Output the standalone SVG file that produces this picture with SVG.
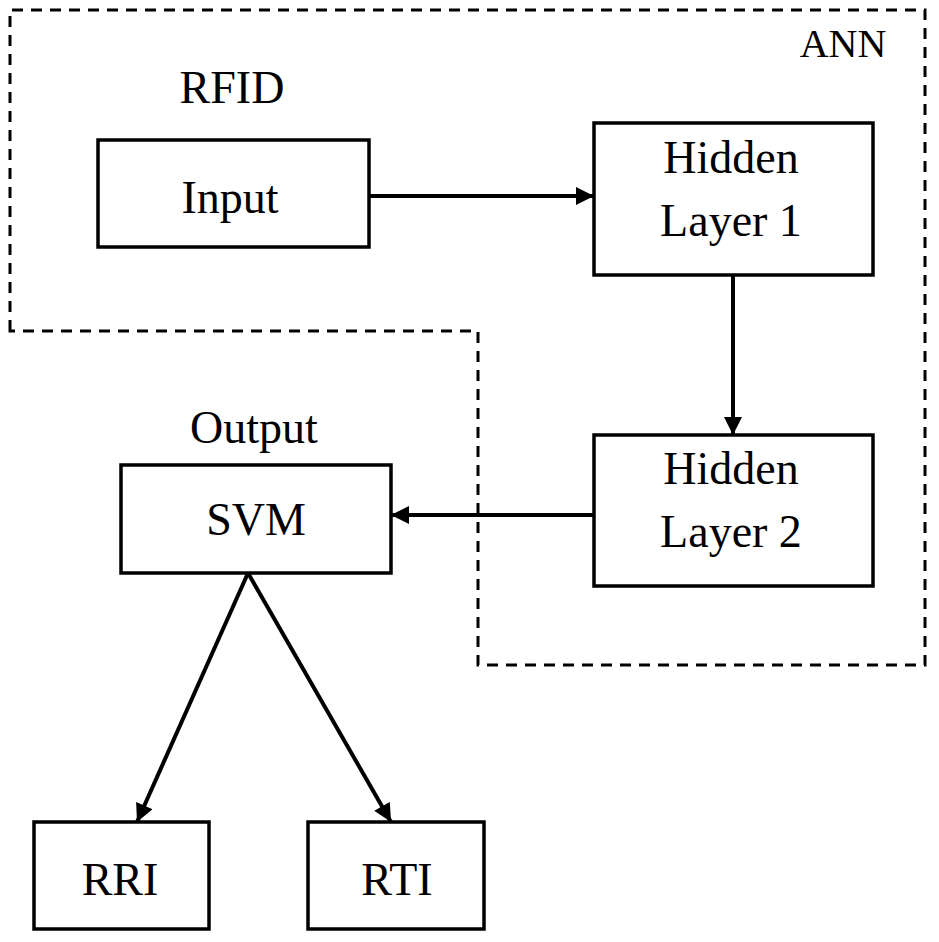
<svg xmlns="http://www.w3.org/2000/svg" width="939" height="942" viewBox="0 0 939 942">
<style>
.box{fill:#fff;stroke:#000;stroke-width:3.5}
.t{font-family:"Liberation Serif","Times New Roman",serif;font-size:46px;fill:#000;text-anchor:middle}
.conn{stroke:#000;stroke-width:4;fill:none}
.dash{stroke:#000;stroke-width:3;fill:none;stroke-dasharray:11 8}
</style>
<defs>
<marker id="ah" viewBox="0 0 10 10" refX="10" refY="5" markerWidth="5" markerHeight="4.5" markerUnits="strokeWidth" orient="auto">
<path d="M0,0 L10,5 L0,10 z" fill="#000"/>
</marker>
</defs>
<g id="ann-boundary">
<path class="dash" d="M10,331 L10,10 L925,10 L925,665 L478,665 L478,331 Z"/>
<text class="t" x="843" y="57" style="font-size:40px">ANN</text>
<text class="t" x="232" y="103">RFID</text>
<text class="t" x="254" y="443">Output</text>
</g>
<g id="connectors">
<line class="conn" x1="369" y1="196" x2="594" y2="196" marker-end="url(#ah)"/>
<line class="conn" x1="733" y1="275" x2="733" y2="435" marker-end="url(#ah)"/>
<line class="conn" x1="594" y1="515" x2="391" y2="515" marker-end="url(#ah)"/>
<line class="conn" x1="248" y1="573" x2="137" y2="822" marker-end="url(#ah)"/>
<line class="conn" x1="248" y1="573" x2="391" y2="822" marker-end="url(#ah)"/>
</g>
<g id="input">
<rect class="box" x="98" y="140" width="271" height="107"/>
<text class="t" x="230" y="213">Input</text>
</g>
<g id="hidden1">
<rect class="box" x="594" y="123" width="279" height="152"/>
<text class="t" x="731" y="173">Hidden</text>
<text class="t" x="731" y="236">Layer 1</text>
</g>
<g id="hidden2">
<rect class="box" x="594" y="435" width="279" height="151"/>
<text class="t" x="731" y="484">Hidden</text>
<text class="t" x="731" y="547">Layer 2</text>
</g>
<g id="svm">
<rect class="box" x="121" y="465" width="270" height="108"/>
<text class="t" x="256" y="535">SVM</text>
</g>
<g id="rri">
<rect class="box" x="34" y="822" width="175" height="107"/>
<text class="t" x="120" y="895">RRI</text>
</g>
<g id="rti">
<rect class="box" x="308" y="822" width="176" height="107"/>
<text class="t" x="397" y="895">RTI</text>
</g>
</svg>
